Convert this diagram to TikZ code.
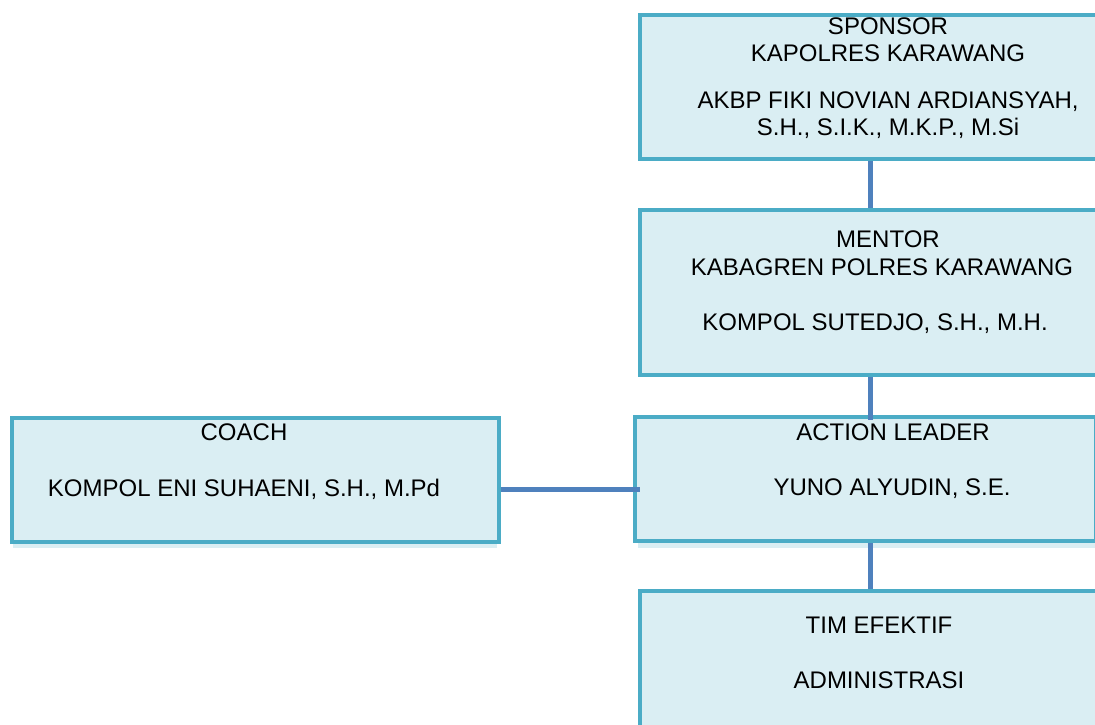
\documentclass[tikz,border=0pt]{standalone}
\usepackage{fontspec}
\setmainfont{Liberation Sans}
\definecolor{bordc}{HTML}{4BACC6}
\definecolor{fillc}{HTML}{DAEEF3}
\definecolor{connc}{HTML}{4F81BD}
\begin{document}
\begin{tikzpicture}[x=1pt,y=-1pt,
  orgbox/.style={draw=bordc, fill=fillc, line width=4pt, rectangle, anchor=north west, inner sep=0pt},
  shade/.style={fill=fillc, draw=none},
  conn/.style={draw=connc, line width=5pt},
  lbl/.style={anchor=base, inner sep=0pt, font=\fontsize{24}{28}\selectfont}]
\useasboundingbox (0,0) rectangle (1095,725);
\clip (0,0) rectangle (1095,725);
% shadows
\fill[shade] (13,420) rectangle (497,548);
\fill[shade] (638,420) rectangle (1098,548);
% boxes
\node[orgbox, minimum width=500pt, minimum height=144pt] (sponsor) at (638,13) {};
\node[orgbox, minimum width=500pt, minimum height=165pt] (mentor) at (638,208) {};
\node[orgbox, minimum width=461pt, minimum height=124pt] (action) at (633,415) {};
\node[orgbox, minimum width=500pt, minimum height=180pt] (tim) at (638,589) {};
\node[orgbox, minimum width=487pt, minimum height=124pt] (coach) at (10,416) {};
% connectors
\draw[conn] ([xshift=-20pt]sponsor.south) -- ([xshift=-20pt]mentor.north);
\draw[conn] ([xshift=-20pt]mentor.south) -- ([xshift=4.5pt,yshift=-5pt]action.north);
\draw[conn] ([xshift=4.5pt]action.south) -- ([xshift=-20pt]tim.north);
\draw[conn] ([yshift=-9pt]coach.east) -- ([xshift=7pt,yshift=-10pt]action.west);
% texts
\node[lbl] (t1) at (888,35) {SPONSOR};
\node[lbl] (t2) at (888,62) {KAPOLRES KARAWANG};
\node[lbl] (t3) at (888,108) {AKBP FIKI NOVIAN ARDIANSYAH,};
\node[lbl] (t4) at (888,135) {S.H., S.I.K., M.K.P., M.Si};
\node[lbl] (t5) at (888,247) {MENTOR};
\node[lbl] (t6) at (882,275) {KABAGREN POLRES KARAWANG};
\node[lbl] (t7) at (875,330) {KOMPOL SUTEDJO, S.H., M.H.};
\node[lbl] (t8) at (893,440) {ACTION LEADER};
\node[lbl] (t9) at (892,495) {YUNO ALYUDIN, S.E.};
\node[lbl] (t10) at (879,633) {TIM EFEKTIF};
\node[lbl] (t11) at (879,688) {ADMINISTRASI};
\node[lbl] (t12) at (244,440) {COACH};
\node[lbl] (t13) at (244,496) {KOMPOL ENI SUHAENI, S.H., M.Pd};
\end{tikzpicture}
\end{document}
